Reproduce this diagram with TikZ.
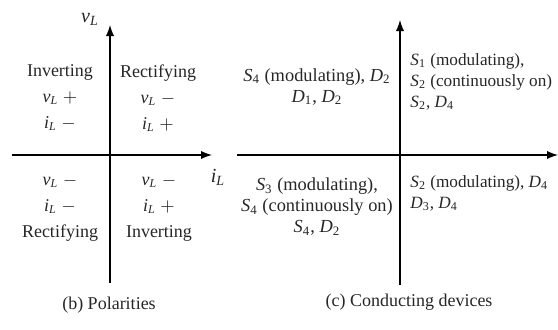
\documentclass[tikz,border=0pt]{standalone}
\usepackage{fontspec}
\setmainfont{Liberation Serif}
\usepackage{tikz}
\usetikzlibrary{positioning}

\newcommand{\qv}[2]{\textit{#1}\textsubscript{#2}}

\begin{document}
\begin{tikzpicture}[x=0.5pt,y=0.5pt,
    axis/.style={line width=0.9pt,-latex},
    quad/.style={align=center,inner sep=0pt,text=black!85,font=\fontsize{9}{13}\selectfont},
    devs/.style={inner sep=0pt,text=black!85,font=\fontsize{9.2}{10.5}\selectfont},
    capt/.style={inner sep=0pt,text=black!85,font=\fontsize{9}{11}\selectfont}]
    \useasboundingbox (0,0) rectangle (558,329);

    \coordinate (pb) at (110,46);
    \coordinate (pt) at (110,304);
    \coordinate (pl) at (12,174);
    \coordinate (pr) at (212,174);

    \draw[axis] (pb) -- (pt);
    \draw[axis] (pl) -- (pr);

    \node[quad,font=\fontsize{10}{12}\selectfont] (vL) at (90,310) {\qv{v}{\textit{L}}};
    \node[quad,font=\fontsize{10}{12}\selectfont] (iL) at (218,152) {\qv{i}{\textit{L}}};

    \node[quad] (inv1) at (60,231) {Inverting\\ \qv{v}{\textit{L}} $+$\\ \qv{i}{\textit{L}} $-$};
    \node[quad] (rec1) at (158,231) {Rectifying\\ \qv{v}{\textit{L}} $-$\\ \qv{i}{\textit{L}} $+$};
    \node[quad] (rec2) at (60,121) {\qv{v}{\textit{L}} $-$\\ \qv{i}{\textit{L}} $-$\\ Rectifying};
    \node[quad] (inv2) at (159,121) {\qv{v}{\textit{L}} $-$\\ \qv{i}{\textit{L}} $+$\\ Inverting};

    \node[capt] (capb) at (109,24) {(b) Polarities};

    \coordinate (cb) at (400,44);
    \coordinate (ct) at (400,309);
    \coordinate (cl) at (237,174);
    \coordinate (cr) at (558,174);

    \draw[axis] (cb) -- (ct);
    \draw[axis] (cl) -- (cr);

    \node[devs,align=center] (q2) at (317,242) {\qv{S}{4} (modulating), \qv{D}{2}\\ \qv{D}{1}, \qv{D}{2}};
    \node[devs,align=left,anchor=west,font=\fontsize{8.6}{10.5}\selectfont] (q1) at (410,247) {\qv{S}{1} (modulating),\\ \qv{S}{2} (continuously on)\\ \qv{S}{2}, \qv{D}{4}};
    \node[devs,align=center] (q3) at (317,122) {\qv{S}{3} (modulating),\\ \qv{S}{4} (continuously on)\\ \qv{S}{4}, \qv{D}{2}};
    \node[devs,align=left,anchor=west,font=\fontsize{8.6}{10.5}\selectfont] (q4) at (410,136) {\qv{S}{2} (modulating), \qv{D}{4}\\ \qv{D}{3}, \qv{D}{4}};

    \node[capt] (capc) at (409,27) {(c) Conducting devices};
\end{tikzpicture}
\end{document}
